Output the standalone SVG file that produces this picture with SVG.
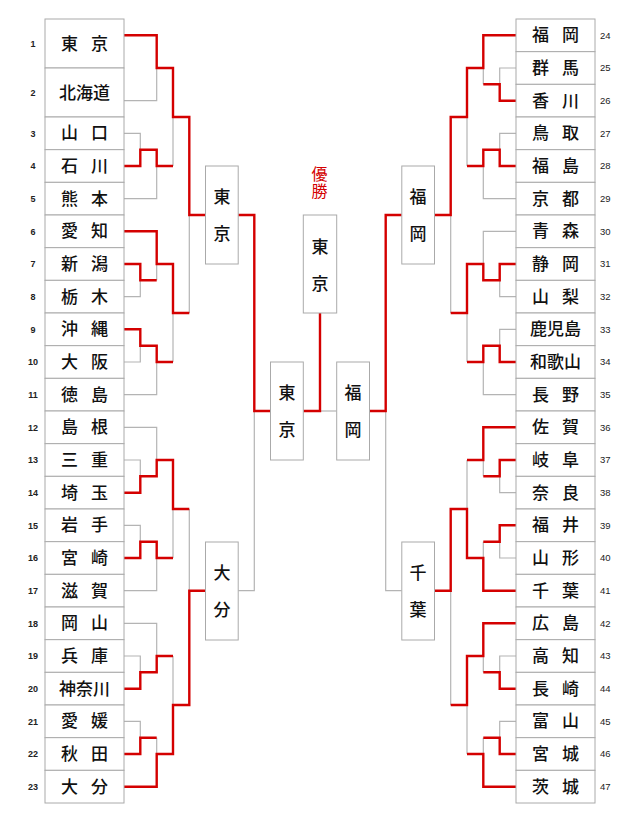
<svg xmlns="http://www.w3.org/2000/svg" width="640" height="820" viewBox="0 0 640 820">
<style>
.bx{fill:#fff;stroke:#aaa;stroke-width:1}
.nm{font-family:"Noto Sans CJK JP","Noto Sans CJK SC",sans-serif;font-size:17px;font-weight:500;fill:#111;text-anchor:middle}
.no{font-family:"Liberation Sans",Arial,sans-serif;font-size:9.5px;fill:#222}
.nl{text-anchor:middle;font-weight:bold;font-size:9px}
.g{fill:none;stroke:#b4b4b4;stroke-width:1.2}
.r{fill:none;stroke:#d40000;stroke-width:2.4;stroke-linejoin:miter}
.win{font-family:"Noto Sans CJK JP","Noto Sans CJK SC",sans-serif;font-size:16px;fill:#d40000;text-anchor:middle}
</style>
<rect width="640" height="820" fill="#fff"/>
<g id="connectors">
<g class="g">
<path d="M124 100.7H156.7V68"/>
<path d="M124 133.3H140.3V149.7"/>
<path d="M124 198.7H156.7V166"/>
<path d="M173 117V166"/>
<path d="M189.3 215V313"/>
<path d="M124 296.7H140.3V280.3"/>
<path d="M156.7 264V280.3"/>
<path d="M124 362H140.3V345.7"/>
<path d="M124 394.7H156.7V362"/>
<path d="M173 313V362"/>
<path d="M124 427.3H156.7V460"/>
<path d="M124 460H140.3V476.3"/>
<path d="M124 525.3H140.3V541.7"/>
<path d="M124 590.7H156.7V558"/>
<path d="M173 509V558"/>
<path d="M189.3 509V590.7"/>
<path d="M124 623.3H156.7V656"/>
<path d="M124 656H140.3V672.3"/>
<path d="M124 721.3H140.3V737.7"/>
<path d="M156.7 737.7V754"/>
<path d="M173 656V705"/>
<path d="M238.2 590.7H254.3V411"/>
<path d="M320 411H336.7"/>
<path d="M516 68H499.7V84.3"/>
<path d="M483.3 68V84.3"/>
<path d="M516 133.3H499.7V149.7"/>
<path d="M516 198.7H483.3V166"/>
<path d="M467 117V166"/>
<path d="M450.7 215V313"/>
<path d="M516 231.3H483.3V264"/>
<path d="M516 296.7H499.7V280.3"/>
<path d="M516 329.3H499.7V345.7"/>
<path d="M516 394.7H483.3V362"/>
<path d="M467 313V362"/>
<path d="M516 492.7H499.7V476.3"/>
<path d="M483.3 460V476.3"/>
<path d="M516 558H499.7V541.7"/>
<path d="M483.3 541.7V558"/>
<path d="M467 460V509"/>
<path d="M516 656H499.7V672.3"/>
<path d="M483.3 656V672.3"/>
<path d="M516 721.3H499.7V737.7"/>
<path d="M483.3 737.7V754"/>
<path d="M467 705V754"/>
<path d="M450.7 590.7V705"/>
<path d="M401.8 590.7H385.7V411"/>
</g>
<g class="r">
<path d="M124 35.3H156.7V68H173V117H189.3V215H205.5"/>
<path d="M238.2 215H254.3V411H270.5"/>
<path d="M303.3 411H320V313"/>
<path d="M124 166H140.3V149.7H156.7V166H173"/>
<path d="M124 231.3H156.7V264H173V313H189.3"/>
<path d="M124 264H140.3V280.3H156.7"/>
<path d="M124 329.3H140.3V345.7H156.7V362H173"/>
<path d="M124 492.7H140.3V476.3H156.7V460H173V509H189.3"/>
<path d="M124 558H140.3V541.7H156.7V558H173"/>
<path d="M124 688.7H140.3V672.3H156.7V656H173"/>
<path d="M124 754H140.3V737.7H156.7"/>
<path d="M124 786.7H156.7V754H173V705H189.3V590.7H205.5"/>
<path d="M516 35.3H483.3V68H467V117H450.7V215H434.5"/>
<path d="M516 100.7H499.7V84.3H483.3"/>
<path d="M516 166H499.7V149.7H483.3V166H467"/>
<path d="M516 264H499.7V280.3H483.3V264H467V313H450.7"/>
<path d="M516 362H499.7V345.7H483.3V362H467"/>
<path d="M516 427.3H483.3V460H467"/>
<path d="M516 460H499.7V476.3H483.3"/>
<path d="M516 525.3H499.7V541.7H483.3"/>
<path d="M516 590.7H483.3V558H467V509H450.7V590.7H434.5"/>
<path d="M516 623.3H483.3V656H467V705H450.7"/>
<path d="M516 688.7H499.7V672.3H483.3"/>
<path d="M516 754H499.7V737.7H483.3"/>
<path d="M516 786.7H483.3V754H467"/>
<path d="M401.8 215H385.7V411H369.5"/>
</g>
</g>
<g id="t1"><rect class="bx" x="45" y="19" width="79" height="49"/><text class="no nl" x="33" y="47">1</text><text class="nm" x="69.5 99.5" y="49.5">東京</text></g>
<g id="t2"><rect class="bx" x="45" y="68" width="79" height="49"/><text class="no nl" x="33" y="96">2</text><text class="nm" x="84.5" y="98.5">北海道</text></g>
<g id="t3"><rect class="bx" x="45" y="117" width="79" height="32.67"/><text class="no nl" x="33" y="136.7">3</text><text class="nm" x="69.5 99.5" y="139.3">山口</text></g>
<g id="t4"><rect class="bx" x="45" y="149.67" width="79" height="32.67"/><text class="no nl" x="33" y="169.4">4</text><text class="nm" x="69.5 99.5" y="172">石川</text></g>
<g id="t5"><rect class="bx" x="45" y="182.33" width="79" height="32.67"/><text class="no nl" x="33" y="202">5</text><text class="nm" x="69.5 99.5" y="204.7">熊本</text></g>
<g id="t6"><rect class="bx" x="45" y="215" width="79" height="32.67"/><text class="no nl" x="33" y="234.7">6</text><text class="nm" x="69.5 99.5" y="237.3">愛知</text></g>
<g id="t7"><rect class="bx" x="45" y="247.67" width="79" height="32.67"/><text class="no nl" x="33" y="267.4">7</text><text class="nm" x="69.5 99.5" y="270">新潟</text></g>
<g id="t8"><rect class="bx" x="45" y="280.33" width="79" height="32.67"/><text class="no nl" x="33" y="300">8</text><text class="nm" x="69.5 99.5" y="302.7">栃木</text></g>
<g id="t9"><rect class="bx" x="45" y="313" width="79" height="32.67"/><text class="no nl" x="33" y="332.7">9</text><text class="nm" x="69.5 99.5" y="335.3">沖縄</text></g>
<g id="t10"><rect class="bx" x="45" y="345.67" width="79" height="32.67"/><text class="no nl" x="33" y="365.4">10</text><text class="nm" x="69.5 99.5" y="368">大阪</text></g>
<g id="t11"><rect class="bx" x="45" y="378.33" width="79" height="32.67"/><text class="no nl" x="33" y="398">11</text><text class="nm" x="69.5 99.5" y="400.7">徳島</text></g>
<g id="t12"><rect class="bx" x="45" y="411" width="79" height="32.67"/><text class="no nl" x="33" y="430.7">12</text><text class="nm" x="69.5 99.5" y="433.3">島根</text></g>
<g id="t13"><rect class="bx" x="45" y="443.67" width="79" height="32.67"/><text class="no nl" x="33" y="463.4">13</text><text class="nm" x="69.5 99.5" y="466">三重</text></g>
<g id="t14"><rect class="bx" x="45" y="476.33" width="79" height="32.67"/><text class="no nl" x="33" y="496">14</text><text class="nm" x="69.5 99.5" y="498.7">埼玉</text></g>
<g id="t15"><rect class="bx" x="45" y="509" width="79" height="32.67"/><text class="no nl" x="33" y="528.7">15</text><text class="nm" x="69.5 99.5" y="531.3">岩手</text></g>
<g id="t16"><rect class="bx" x="45" y="541.67" width="79" height="32.67"/><text class="no nl" x="33" y="561.4">16</text><text class="nm" x="69.5 99.5" y="564">宮崎</text></g>
<g id="t17"><rect class="bx" x="45" y="574.33" width="79" height="32.67"/><text class="no nl" x="33" y="594">17</text><text class="nm" x="69.5 99.5" y="596.7">滋賀</text></g>
<g id="t18"><rect class="bx" x="45" y="607" width="79" height="32.67"/><text class="no nl" x="33" y="626.7">18</text><text class="nm" x="69.5 99.5" y="629.3">岡山</text></g>
<g id="t19"><rect class="bx" x="45" y="639.67" width="79" height="32.67"/><text class="no nl" x="33" y="659.4">19</text><text class="nm" x="69.5 99.5" y="662">兵庫</text></g>
<g id="t20"><rect class="bx" x="45" y="672.33" width="79" height="32.67"/><text class="no nl" x="33" y="692">20</text><text class="nm" x="84.5" y="694.7">神奈川</text></g>
<g id="t21"><rect class="bx" x="45" y="705" width="79" height="32.67"/><text class="no nl" x="33" y="724.7">21</text><text class="nm" x="69.5 99.5" y="727.3">愛媛</text></g>
<g id="t22"><rect class="bx" x="45" y="737.67" width="79" height="32.67"/><text class="no nl" x="33" y="757.4">22</text><text class="nm" x="69.5 99.5" y="760">秋田</text></g>
<g id="t23"><rect class="bx" x="45" y="770.33" width="79" height="32.67"/><text class="no nl" x="33" y="790">23</text><text class="nm" x="69.5 99.5" y="792.7">大分</text></g>
<g id="t24"><rect class="bx" x="516" y="19" width="79" height="32.67"/><text class="no" x="600" y="38.7">24</text><text class="nm" x="540.5 570.5" y="41.3">福岡</text></g>
<g id="t25"><rect class="bx" x="516" y="51.67" width="79" height="32.67"/><text class="no" x="600" y="71.4">25</text><text class="nm" x="540.5 570.5" y="74">群馬</text></g>
<g id="t26"><rect class="bx" x="516" y="84.33" width="79" height="32.67"/><text class="no" x="600" y="104">26</text><text class="nm" x="540.5 570.5" y="106.7">香川</text></g>
<g id="t27"><rect class="bx" x="516" y="117" width="79" height="32.67"/><text class="no" x="600" y="136.7">27</text><text class="nm" x="540.5 570.5" y="139.3">鳥取</text></g>
<g id="t28"><rect class="bx" x="516" y="149.67" width="79" height="32.67"/><text class="no" x="600" y="169.4">28</text><text class="nm" x="540.5 570.5" y="172">福島</text></g>
<g id="t29"><rect class="bx" x="516" y="182.33" width="79" height="32.67"/><text class="no" x="600" y="202">29</text><text class="nm" x="540.5 570.5" y="204.7">京都</text></g>
<g id="t30"><rect class="bx" x="516" y="215" width="79" height="32.67"/><text class="no" x="600" y="234.7">30</text><text class="nm" x="540.5 570.5" y="237.3">青森</text></g>
<g id="t31"><rect class="bx" x="516" y="247.67" width="79" height="32.67"/><text class="no" x="600" y="267.4">31</text><text class="nm" x="540.5 570.5" y="270">静岡</text></g>
<g id="t32"><rect class="bx" x="516" y="280.33" width="79" height="32.67"/><text class="no" x="600" y="300">32</text><text class="nm" x="540.5 570.5" y="302.7">山梨</text></g>
<g id="t33"><rect class="bx" x="516" y="313" width="79" height="32.67"/><text class="no" x="600" y="332.7">33</text><text class="nm" x="555.5" y="335.3">鹿児島</text></g>
<g id="t34"><rect class="bx" x="516" y="345.67" width="79" height="32.67"/><text class="no" x="600" y="365.4">34</text><text class="nm" x="555.5" y="368">和歌山</text></g>
<g id="t35"><rect class="bx" x="516" y="378.33" width="79" height="32.67"/><text class="no" x="600" y="398">35</text><text class="nm" x="540.5 570.5" y="400.7">長野</text></g>
<g id="t36"><rect class="bx" x="516" y="411" width="79" height="32.67"/><text class="no" x="600" y="430.7">36</text><text class="nm" x="540.5 570.5" y="433.3">佐賀</text></g>
<g id="t37"><rect class="bx" x="516" y="443.67" width="79" height="32.67"/><text class="no" x="600" y="463.4">37</text><text class="nm" x="540.5 570.5" y="466">岐阜</text></g>
<g id="t38"><rect class="bx" x="516" y="476.33" width="79" height="32.67"/><text class="no" x="600" y="496">38</text><text class="nm" x="540.5 570.5" y="498.7">奈良</text></g>
<g id="t39"><rect class="bx" x="516" y="509" width="79" height="32.67"/><text class="no" x="600" y="528.7">39</text><text class="nm" x="540.5 570.5" y="531.3">福井</text></g>
<g id="t40"><rect class="bx" x="516" y="541.67" width="79" height="32.67"/><text class="no" x="600" y="561.4">40</text><text class="nm" x="540.5 570.5" y="564">山形</text></g>
<g id="t41"><rect class="bx" x="516" y="574.33" width="79" height="32.67"/><text class="no" x="600" y="594">41</text><text class="nm" x="540.5 570.5" y="596.7">千葉</text></g>
<g id="t42"><rect class="bx" x="516" y="607" width="79" height="32.67"/><text class="no" x="600" y="626.7">42</text><text class="nm" x="540.5 570.5" y="629.3">広島</text></g>
<g id="t43"><rect class="bx" x="516" y="639.67" width="79" height="32.67"/><text class="no" x="600" y="659.4">43</text><text class="nm" x="540.5 570.5" y="662">高知</text></g>
<g id="t44"><rect class="bx" x="516" y="672.33" width="79" height="32.67"/><text class="no" x="600" y="692">44</text><text class="nm" x="540.5 570.5" y="694.7">長崎</text></g>
<g id="t45"><rect class="bx" x="516" y="705" width="79" height="32.67"/><text class="no" x="600" y="724.7">45</text><text class="nm" x="540.5 570.5" y="727.3">富山</text></g>
<g id="t46"><rect class="bx" x="516" y="737.67" width="79" height="32.67"/><text class="no" x="600" y="757.4">46</text><text class="nm" x="540.5 570.5" y="760">宮城</text></g>
<g id="t47"><rect class="bx" x="516" y="770.33" width="79" height="32.67"/><text class="no" x="600" y="790">47</text><text class="nm" x="540.5 570.5" y="792.7">茨城</text></g>
<g id="qf-tokyo"><rect class="bx" x="205.5" y="166" width="32.7" height="98"/><text class="nm" x="221.9 221.9" y="202.5 239.5">東京</text></g>
<g id="qf-oita"><rect class="bx" x="205.5" y="542" width="32.7" height="98"/><text class="nm" x="221.9 221.9" y="578.5 615.5">大分</text></g>
<g id="qf-fukuoka"><rect class="bx" x="401.8" y="166" width="32.7" height="98"/><text class="nm" x="418.1 418.1" y="202.5 239.5">福岡</text></g>
<g id="qf-chiba"><rect class="bx" x="401.8" y="542" width="32.7" height="98"/><text class="nm" x="418.1 418.1" y="578.5 615.5">千葉</text></g>
<g id="sf-tokyo"><rect class="bx" x="270.5" y="362" width="32.8" height="98"/><text class="nm" x="286.9 286.9" y="398.5 435.5">東京</text></g>
<g id="sf-fukuoka"><rect class="bx" x="336.7" y="362" width="32.8" height="98"/><text class="nm" x="353.1 353.1" y="398.5 435.5">福岡</text></g>
<g id="champion"><text class="win" x="319.5 319.5" y="180 197">優勝</text><rect class="bx" x="303.3" y="215" width="33.4" height="98"/><text class="nm" x="320 320" y="252.5 289.5">東京</text></g>
</svg>
